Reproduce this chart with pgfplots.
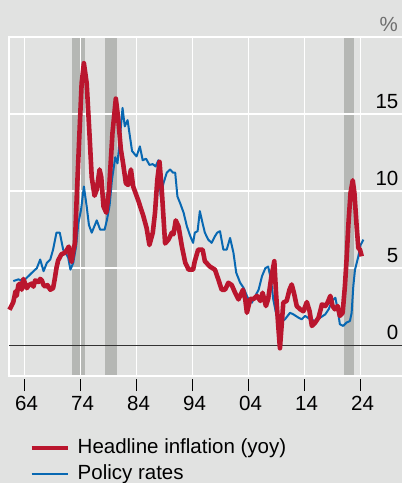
\documentclass[border=0pt]{standalone}
\usepackage{pgfplots}
\pgfplotsset{compat=1.18}
\usepackage{fontspec}
\setmainfont{Liberation Sans}
\definecolor{bgc}{RGB}{225,226,225}
\definecolor{band}{RGB}{181,183,180}
\definecolor{infl}{RGB}{186,22,46}
\definecolor{pol}{RGB}{8,104,178}
\definecolor{pct}{RGB}{110,110,110}
\pgfplotsset{set layers}
\begin{document}%
\pagecolor{bgc}%
\fontsize{20.5}{24}\selectfont%
\begin{tikzpicture}
\path (0pt,0pt) rectangle (402pt,483pt);
\begin{axis}[
  at={(9pt,107pt)}, anchor=south west,
  scale only axis, width=393.6pt, height=339pt,
  xmin=1961.23, xmax=2031.5, ymin=-2, ymax=20,
  axis line style={white, line width=1.3pt},
  grid=major, major grid style={white, line width=1.3pt},
  xtick={1964,1974,1984,1994,2004,2014,2024},
  xticklabels={64,74,84,94,04,14,24},
  ytick={0,5,10,15},
  xtick pos=left,
  tick align=outside, major tick length=12pt,
  xtick style={black, line width=0.8pt, yshift=-3pt},
  ytick style={draw=none},
  yticklabel pos=right,
  yticklabel style={anchor=south east, inner sep=0pt, xshift=-16pt, yshift=5.5pt, text=black},
  xticklabel style={xshift=2pt, yshift=-1.5pt, text=black},
  ticklabel style={font=\fontsize{20.5}{24}\selectfont},
  /pgf/number format/assume math mode=true,
  clip=false,
]
\addplot[on layer=axis background, fill=band, draw=none] coordinates {(1972.48,-2) (1972.48,20) (1974.75,20) (1974.75,-2)} -- cycle;
\addplot[on layer=axis background, fill=band, draw=none] coordinates {(1978.37,-2) (1978.37,20) (1980.46,20) (1980.46,-2)} -- cycle;
\addplot[on layer=axis background, fill=band, draw=none] coordinates {(2021.05,-2) (2021.05,20) (2022.84,20) (2022.84,-2)} -- cycle;
\addplot[black!80, line width=1.3pt] coordinates {(1961.23,0) (2031.5,0)};
\addplot[pol, line width=2pt, line join=round] coordinates {
(1962.0,4.16) (1962.9,4.27) (1963.8,4.16) (1964.7,4.48) (1965.6,4.8) (1966.2,5.0) (1966.8,5.56) (1967.4,4.8) (1968.0,5.35) (1968.6,5.56) (1969.1,6.2) (1969.7,7.3) (1970.3,7.3) (1970.9,6.2) (1971.5,5.88) (1971.8,5.67) (1972.2,4.9) (1972.7,5.35) (1973.2,6.4) (1973.6,7.9) (1974.1,8.8) (1974.6,10.3) (1975.1,9.0) (1975.5,7.8) (1976.0,7.3) (1976.9,8.1) (1977.5,7.5) (1978.3,7.5) (1978.7,8.1) (1979.2,9.1) (1979.6,10.7) (1980.2,12.2) (1980.6,11.8) (1981.1,13.75) (1981.5,15.4) (1981.9,14.2) (1982.4,14.6) (1982.8,13.6) (1983.2,12.6) (1984.0,12.25) (1984.6,12.9) (1985.1,12.0) (1985.7,12.1) (1986.3,11.7) (1986.9,11.75) (1987.4,11.6) (1987.9,12.0) (1988.3,9.65) (1988.8,10.5) (1989.4,11.2) (1990.0,11.4) (1990.5,11.2) (1990.9,11.2) (1991.3,9.65) (1991.8,9.2) (1992.4,8.6) (1993.0,7.7) (1993.6,7.07) (1994.1,6.64) (1994.4,7.3) (1994.9,7.4) (1995.3,8.7) (1995.8,7.9) (1996.2,7.3) (1996.8,6.85) (1997.4,6.64) (1998.0,7.07) (1998.4,7.3) (1998.9,7.4) (1999.5,6.2) (2000.1,6.2) (2000.7,6.96) (2001.3,6.0) (2001.8,4.7) (2002.5,4.05) (2003.1,3.73) (2003.7,3.2) (2004.1,2.9) (2004.6,2.76) (2005.2,3.2) (2005.8,3.6) (2006.4,4.48) (2007.0,5.0) (2007.5,5.1) (2008.0,4.27) (2008.4,3.0) (2009.0,1.9) (2009.6,1.47) (2010.5,1.68) (2011.4,2.1) (2012.0,2.0) (2012.9,1.79) (2013.5,1.68) (2014.1,1.9) (2015.0,1.68) (2015.9,1.57) (2016.8,1.79) (2017.7,2.0) (2018.3,2.33) (2018.9,2.87) (2019.5,3.08) (2019.9,2.33) (2020.3,1.36) (2020.9,1.25) (2021.5,1.47) (2022.1,1.57) (2022.4,2.1) (2022.7,3.83) (2023.0,4.9) (2023.6,5.77) (2024.0,6.5) (2024.5,6.85)
};
\addplot[infl, line width=4.6pt, line join=round] coordinates {
(1961.3,2.3) (1961.6,2.5) (1962.0,2.8) (1962.4,3.5) (1962.6,3.2) (1962.9,3.9) (1963.2,4.0) (1963.5,3.6) (1963.8,4.3) (1964.1,4.0) (1964.4,3.7) (1964.8,3.9) (1965.3,4.0) (1965.6,3.8) (1965.9,4.2) (1966.5,4.1) (1966.8,4.3) (1967.1,4.2) (1967.4,3.9) (1967.7,3.8) (1968.1,3.9) (1968.6,3.6) (1969.1,3.7) (1969.4,4.3) (1969.7,5.0) (1970.0,5.5) (1970.6,5.9) (1971.2,6.0) (1971.6,6.2) (1971.9,6.4) (1972.1,5.8) (1972.4,5.4) (1972.8,6.3) (1973.0,6.6) (1973.3,9.4) (1973.8,13.7) (1974.2,17.0) (1974.6,18.3) (1975.1,17.0) (1975.6,13.7) (1976.0,10.9) (1976.5,9.7) (1976.9,10.1) (1977.4,11.4) (1977.7,10.9) (1978.1,9.0) (1978.6,8.6) (1979.1,10.1) (1979.7,13.75) (1980.3,16.0) (1980.7,14.8) (1981.2,12.7) (1981.6,11.8) (1982.1,10.5) (1982.5,10.4) (1983.0,11.4) (1983.4,10.3) (1984.0,9.7) (1984.3,9.4) (1985.2,8.4) (1985.8,7.6) (1986.3,6.5) (1986.9,7.3) (1987.3,8.6) (1987.7,10.7) (1988.1,11.9) (1988.5,10.1) (1989.1,6.6) (1989.7,6.85) (1990.3,7.3) (1990.6,7.2) (1991.0,8.1) (1991.5,7.7) (1992.1,6.4) (1992.7,5.35) (1993.3,4.9) (1994.1,4.9) (1994.4,5.45) (1995.0,6.2) (1995.8,6.2) (1996.2,5.45) (1997.1,5.1) (1998.0,4.9) (1998.6,4.27) (1999.2,3.6) (1999.8,3.6) (2000.4,4.05) (2001.0,3.9) (2001.6,3.4) (2002.2,2.97) (2002.5,3.2) (2003.0,3.6) (2003.4,3.0) (2003.7,2.1) (2004.3,3.0) (2004.9,3.0) (2005.5,3.2) (2006.1,2.87) (2006.5,3.4) (2007.1,2.54) (2007.5,3.0) (2008.1,4.5) (2008.6,5.45) (2008.9,3.4) (2009.3,1.25) (2009.6,-0.2) (2009.9,1.25) (2010.2,2.76) (2010.8,2.87) (2011.3,3.6) (2011.7,3.94) (2012.1,3.4) (2012.6,2.54) (2013.2,2.33) (2013.8,2.2) (2014.4,2.8) (2014.9,2.2) (2015.3,1.25) (2015.9,1.47) (2016.5,1.79) (2017.1,2.65) (2017.7,2.54) (2018.1,2.76) (2018.6,3.2) (2019.0,2.54) (2019.4,2.33) (2019.9,2.54) (2020.3,1.9) (2020.8,2.1) (2021.2,3.83) (2021.5,5.56) (2021.8,7.7) (2022.2,9.87) (2022.6,10.7) (2022.9,9.87) (2023.3,7.7) (2023.6,6.3) (2023.9,6.2) (2024.2,5.77)
};
\end{axis}
\node[anchor=base east, inner sep=0pt, text=pct] at (398pt,451pt) {\%};
\draw[infl, line width=4pt] (31.7pt,35.3pt) -- (67.7pt,35.3pt);
\draw[pol, line width=2pt] (31.7pt,8.7pt) -- (67.7pt,8.7pt);
\node[anchor=base west, inner sep=0pt] at (77.5pt,30pt) {Headline inflation (yoy)};
\node[anchor=base west, inner sep=0pt] at (77.5pt,3pt) {Policy rates};
\pgfresetboundingbox
\useasboundingbox (0pt,0pt) rectangle (402pt,483pt);
\end{tikzpicture}%
\end{document}
